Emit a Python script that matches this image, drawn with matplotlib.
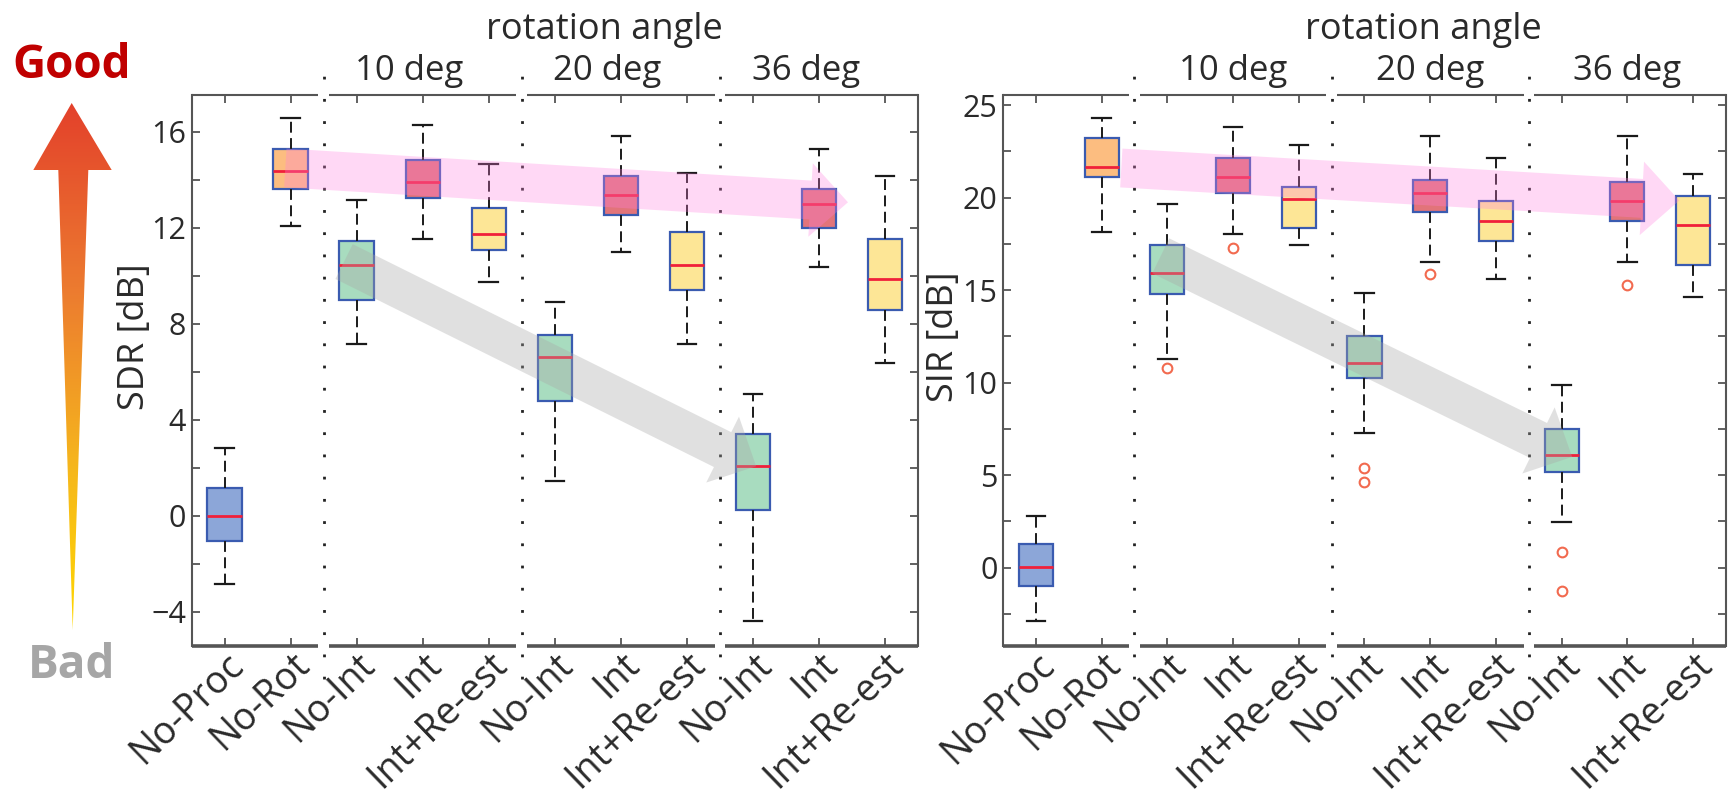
import numpy as np
import matplotlib
matplotlib.use('Agg')
import matplotlib.pyplot as plt
from matplotlib.colors import LinearSegmentedColormap
from matplotlib.patches import Polygon
from matplotlib.transforms import ScaledTranslation, blended_transform_factory

plt.rcParams['font.family'] = ['Open Sans', 'DejaVu Sans']

# ---- data ----
labels = ['No-Proc', 'No-Rot', 'No-Int', 'Int', 'Int+Re-est',
          'No-Int', 'Int', 'Int+Re-est', 'No-Int', 'Int', 'Int+Re-est']
kinds = ['proc', 'rot', 'noint', 'int', 'reest',
         'noint', 'int', 'reest', 'noint', 'int', 'reest']
groups = ['10 deg', '20 deg', '36 deg']

sdr_whishi = [2.82, 16.57, 13.18, 16.28, 14.65, 8.91, 15.82, 14.27, 5.09, 15.29, 14.18]
sdr_q3 = [1.16, 15.27, 11.45, 14.83, 12.83, 7.53, 14.18, 11.82, 3.43, 13.64, 11.53]
sdr_med = [0.0, 14.37, 10.45, 13.9, 11.73, 6.63, 13.37, 10.45, 2.08, 13.0, 9.88]
sdr_q1 = [-1.03, 13.64, 8.99, 13.26, 11.07, 4.81, 12.53, 9.42, 0.25, 12.0, 8.6]
sdr_whislo = [-2.83, 12.1, 7.17, 11.53, 9.73, 1.47, 11.0, 7.17, -4.39, 10.37, 6.37]
sdr_fliers = [[], [], [], [], [], [], [], [], [], [], []]

sir_whishi = [2.76, 24.3, 19.66, 23.8, 22.86, 14.82, 23.32, 22.16, 9.86, 23.32, 21.3]
sir_q3 = [1.26, 23.2, 17.42, 22.16, 20.6, 12.5, 20.96, 19.8, 7.5, 20.84, 20.1]
sir_med = [0.05, 21.66, 15.9, 21.1, 19.92, 11.06, 20.26, 18.74, 6.1, 19.8, 18.5]
sir_q1 = [-1.0, 21.1, 14.8, 20.26, 18.36, 10.26, 19.2, 17.66, 5.16, 18.74, 16.36]
sir_whislo = [-2.88, 18.16, 11.3, 18.04, 17.44, 7.26, 16.5, 15.62, 2.44, 16.5, 14.6]
sir_fliers = [[], [], [10.8], [17.3], [], [5.4, 4.6], [15.86], [], [0.84, -1.28], [15.26], []]

# trend arrows (tail, tip) in data coords
sdr_pink = [(1.92, 14.5), (10.44, 13.07)]
sdr_gray = [(2.81, 10.6), (9.05, 2.07)]
sir_pink = [(2.3, 21.6), (10.79, 19.84)]
sir_gray = [(2.9, 16.85), (9.16, 5.98)]

fill = {'proc': '#8ca6d8', 'rot': '#fcbd80', 'noint': '#a8dcbf',
        'int': '#e2747a', 'reest': '#fde696'}
edge = '#3a5bb0'
frame = '#555555'
text_color = '#2a2a2a'


def draw_panel(ax, whislo, q1, med, q3, whishi, fliers, ylim, major, minor,
               ylabel, label_x, group_shift, angle_x, pink, gray):
    stats = []
    for i in range(len(labels)):
        stats.append(dict(whislo=whislo[i], q1=q1[i], med=med[i], q3=q3[i],
                          whishi=whishi[i], fliers=fliers[i]))
    pos = np.arange(1, len(labels) + 1)
    bp = ax.bxp(stats, positions=pos, widths=0.52, capwidths=0.28,
                patch_artist=True, manage_ticks=False,
                boxprops=dict(edgecolor=edge, linewidth=1.6),
                whiskerprops=dict(color='#1a1a1a', linewidth=1.4, linestyle=(0, (5.6, 2.8))),
                capprops=dict(color='#1a1a1a', linewidth=1.6),
                medianprops=dict(color='#f0203a', linewidth=2),
                flierprops=dict(marker='o', markerfacecolor='none', markeredgecolor='#f26a4f',
                                markersize=7, markeredgewidth=1.5))
    for patch, k in zip(bp['boxes'], kinds):
        patch.set_facecolor(fill[k])

    # trend arrows drawn over the boxes
    for (tail, tip), col, al in ((pink, '#ff80e0', 0.3), (gray, '#a8a8a8', 0.35)):
        ax.annotate('', xy=tip, xytext=tail,
                    arrowprops=dict(arrowstyle='simple,head_length=27,head_width=53,tail_width=28',
                                    mutation_scale=1, fc=col, ec='none', alpha=al,
                                    shrinkA=0, shrinkB=0),
                    zorder=5)

    ax.set_xlim(0.5, 11.5)
    ax.set_ylim(*ylim)
    ax.set_yticks(major)
    ax.set_yticks(minor, minor=True)
    ax.set_xticks(pos)
    ax.set_xticklabels(labels, rotation=44, ha='right', va='top',
                       rotation_mode='anchor', fontsize=27, color=text_color)
    off = ScaledTranslation(0.17, -0.04, ax.figure.dpi_scale_trans)
    for lab in ax.get_xticklabels():
        lab.set_transform(lab.get_transform() + off)
    ax.tick_params(axis='both', which='both', direction='in', top=True, right=True,
                   length=6, width=1.3, color=frame)
    ax.tick_params(axis='x', pad=0)
    ax.tick_params(axis='y', labelsize=22, labelcolor=text_color, pad=4)

    for s in ['left', 'right']:
        ax.spines[s].set_color(frame)
        ax.spines[s].set_linewidth(1.5)
    ax.spines['top'].set_visible(False)
    ax.spines['bottom'].set_visible(False)

    trans = blended_transform_factory(ax.transData, ax.transAxes)
    seps = [2.5, 5.5, 8.5]
    bounds = [0.5] + seps + [11.5]
    for a, b in zip(bounds[:-1], bounds[1:]):
        a2 = a + 0.08 if a > 0.5 else a
        b2 = b - 0.08 if b < 11.5 else b
        ax.plot([a2, b2], [1, 1], transform=trans, color=frame, lw=1.5,
                clip_on=False, solid_capstyle='butt')
        ax.plot([a2, b2], [0, 0], transform=trans, color=frame, lw=2.6,
                clip_on=False, solid_capstyle='butt')
    for x in seps:
        ax.plot([x, x], [-0.06, 1.037], transform=trans, color='#222222', lw=2,
                linestyle=(0, (1, 7)), clip_on=False)

    for g, c in zip(groups, [4, 7, 10]):
        ax.text(c + group_shift, 1.027, g, transform=trans, ha='center', va='baseline',
                fontsize=25, color=text_color)
    ax.text(angle_x, 1.101, 'rotation angle', transform=trans, ha='center',
            va='baseline', fontsize=26, color=text_color)

    ax.set_ylabel(ylabel, fontsize=26, color=text_color)
    ax.yaxis.set_label_coords(label_x, 0.56)


fig = plt.figure(figsize=(17.35, 7.97), dpi=100)
fig.patch.set_facecolor('white')

# overlay in pixel coordinates for the Good/Bad arrow
ov = fig.add_axes([0, 0, 1, 1])
ov.set_xlim(0, 1735)
ov.set_ylim(797, 0)
ov.axis('off')
arrow_pts = [(71.7, 103), (111.7, 170), (88.3, 170), (72.7, 630),
             (58.3, 170), (33.3, 170)]
cmap = LinearSegmentedColormap.from_list(
    'goodbad', [(0.0, '#e3402b'), (0.35, '#ec7a30'), (0.7, '#f6b81c'), (1.0, '#ffd700')])
grad = np.linspace(0, 1, 256).reshape(-1, 1)
img = ov.imshow(grad, cmap=cmap, extent=(30, 115, 632, 100), aspect='auto', origin='upper')
clip = Polygon(arrow_pts, closed=True, transform=ov.transData, facecolor='none', edgecolor='none')
ov.add_patch(clip)
img.set_clip_path(clip)
ov.text(71.5, 78, 'Good', ha='center', va='baseline', fontsize=33,
        fontweight='bold', color='#c00000')
ov.text(72, 678, 'Bad', ha='center', va='baseline', fontsize=33,
        fontweight='bold', color='#a6a6a6')

ax1 = fig.add_axes([0.1104, 0.19, 0.4187, 0.6911])
draw_panel(ax1, sdr_whislo, sdr_q1, sdr_med, sdr_q3, sdr_whishi, sdr_fliers,
           (-5.4, 17.55), [-4, 0, 4, 8, 12, 16], [-2, 2, 6, 10, 14],
           'SDR [dB]', -0.053, -0.2, 6.75, sdr_pink, sdr_gray)

ax2 = fig.add_axes([0.5781, 0.19, 0.4167, 0.6911])
draw_panel(ax2, sir_whislo, sir_q1, sir_med, sir_q3, sir_whishi, sir_fliers,
           (-4.22, 25.56), [0, 5, 10, 15, 20, 25], [-2.5, 2.5, 7.5, 12.5, 17.5, 22.5],
           'SIR [dB]', -0.057, 0.0, 6.9, sir_pink, sir_gray)

fig.savefig('out.png', dpi=100, facecolor='white')
